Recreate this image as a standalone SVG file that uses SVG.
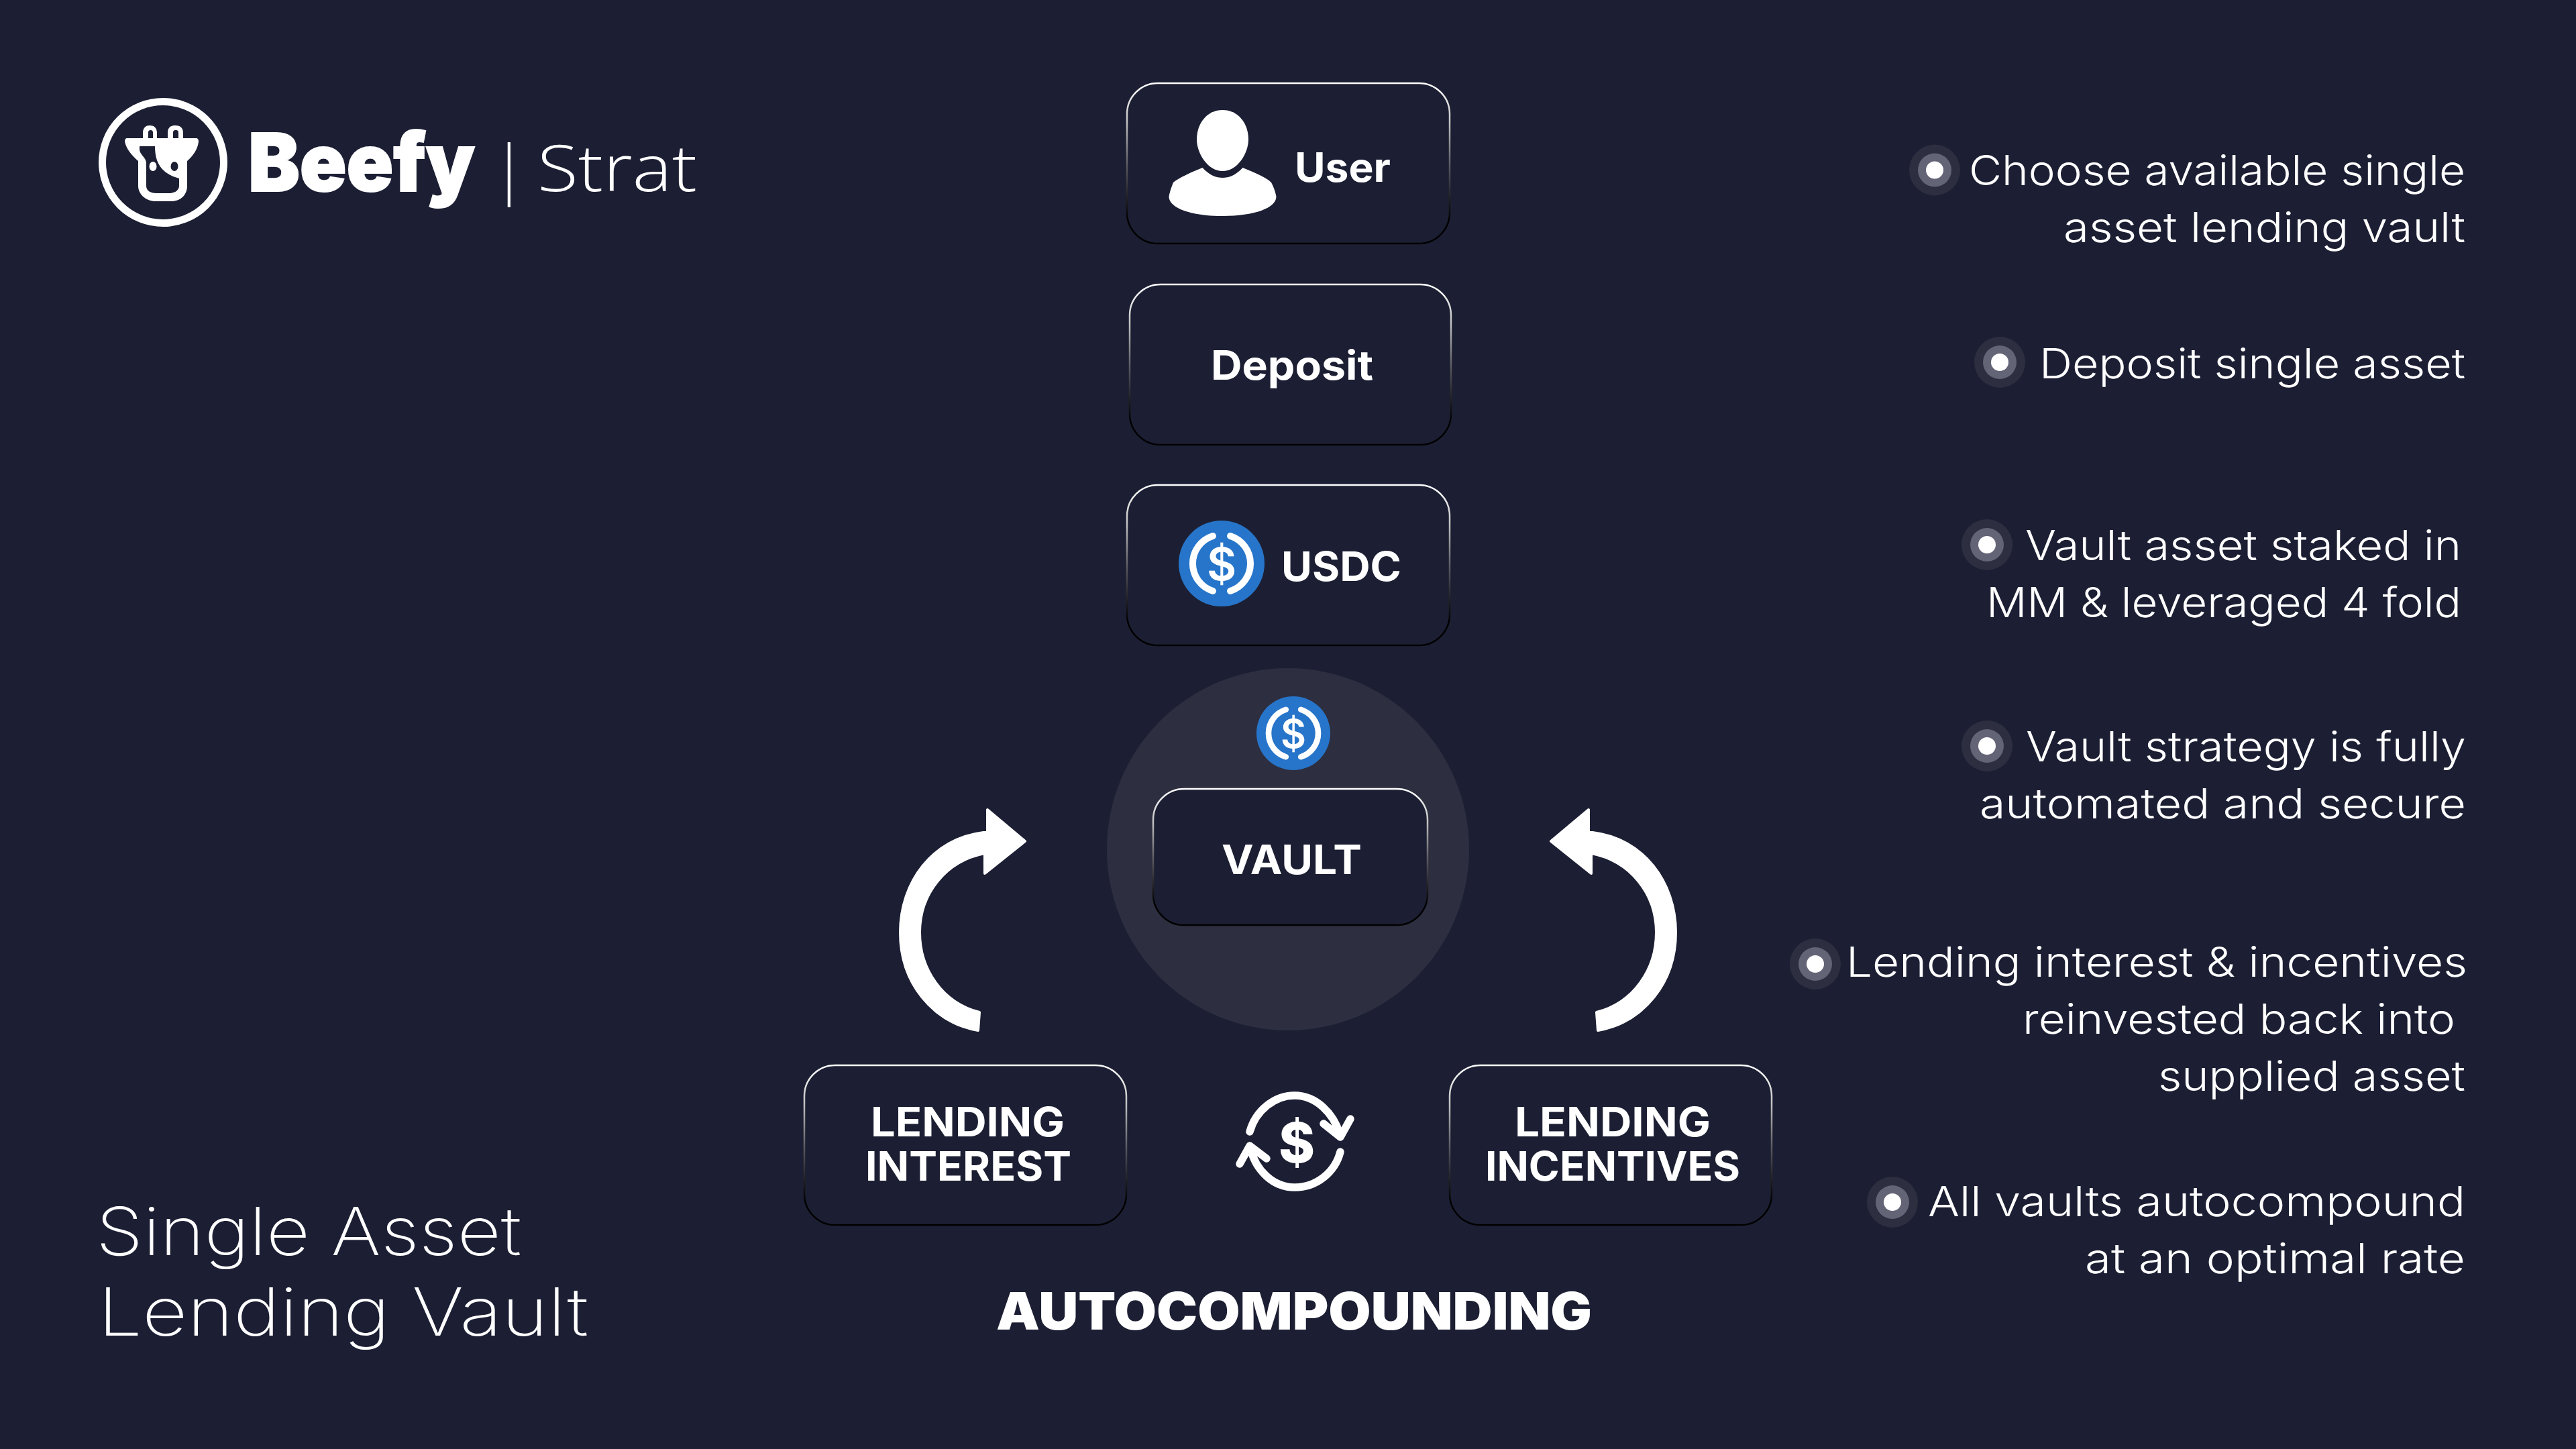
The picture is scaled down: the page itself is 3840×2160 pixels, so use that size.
<svg xmlns="http://www.w3.org/2000/svg" width="3840" height="2160" viewBox="0 0 3840 2160">
<defs>
<linearGradient id="edge" x1="0" y1="0" x2="0" y2="1">
<stop offset="0" stop-color="#ffffff"/><stop offset="0.25" stop-color="#c0c0c0"/><stop offset="0.5" stop-color="#5e5e64"/><stop offset="0.68" stop-color="#2a2a2e"/><stop offset="0.85" stop-color="#000000"/><stop offset="1" stop-color="#000000"/>
</linearGradient>
</defs>
<style>
text{font-family:"Inter","Liberation Sans",sans-serif;fill:#fff}
.box{fill:#1c1f33;stroke:url(#edge);stroke-width:2.500}
.t{font-weight:700;font-size:60px;text-anchor:start}
.b{font-weight:300;font-size:62px}
.o{fill:#2d2e3f}.m{fill:#636476}.i{fill:#fff}
.coin{fill:#2775ca}
.ring{fill:none;stroke:#fff;stroke-width:10;stroke-linecap:round}
.sw{fill:none;stroke:#fff;stroke-width:11.500;stroke-linecap:round;stroke-linejoin:round}
.arrow{fill:#fff;stroke:#fff;stroke-width:4;stroke-linejoin:round}
</style>
<rect width="3840" height="2160" fill="#1c1f33"/>

<g id="logo">
<circle cx="243" cy="242" r="90.500" fill="none" stroke="#fff" stroke-width="11"/>
<path fill="#fff" d="M213,206V198C213,190 218,187 223,187C229,187 234,190 234,198V206H250V198C250,190 255,187 261,187C268,187 273,190 273,198V206H292C295,206 296,208 296,211C295,222 288,232 279,240V277C279,290 270,300 255,300H232C218,300 206,290 206,277V240C197,232 188,222 186,211C186,208 187,206 190,206Z"/>
<path fill="#1c1f33" d="M221,206V198C221,195 222,194 224.500,194C227,194 228,195 228,198V206ZM258,206V198C258,195 259,194 262,194C265,194 266,195 266,198V206ZM208,218H231C231,240 238,258 267,266V277C267,284 260,288 252,288H233C224,288 218,284 218,277V243C218,235 208,230 208,223Z"/>
<ellipse cx="228" cy="248" rx="5.500" ry="7" fill="#fff"/>
<ellipse cx="260" cy="248" rx="5.500" ry="7" fill="#1c1f33"/>
<text x="370" y="285" font-size="120" font-weight="900" stroke="#fff" stroke-width="2" textLength="338" lengthAdjust="spacingAndGlyphs">Beefy</text>
<text x="733" y="285" font-size="96" font-weight="300" style="font-family:'Open Sans','Inter',sans-serif">|</text>
<text x="801" y="285" font-size="96" font-weight="300" textLength="238" lengthAdjust="spacingAndGlyphs" style="font-family:'Open Sans','Inter',sans-serif">Strat</text>
</g>

<g id="title">
<text x="143" y="1871" font-size="99" font-weight="200" textLength="634" lengthAdjust="spacingAndGlyphs">Single Asset</text>
<text x="146" y="1991" font-size="99" font-weight="200" textLength="731" lengthAdjust="spacingAndGlyphs">Lending Vault</text>
</g>

<g id="connectors">
<path id="arrow-left" class="arrow" d="M1460,1509C1405,1495 1371,1445 1371,1390C1371,1332 1410,1283 1468,1272V1302L1528,1254L1472,1207V1241H1466C1390,1250 1342,1315 1342,1390C1342,1465 1390,1524 1458,1536Z"/>
<path id="arrow-right" class="arrow" transform="translate(3840,0) scale(-1,1)" d="M1460,1509C1405,1495 1371,1445 1371,1390C1371,1332 1410,1283 1468,1272V1302L1528,1254L1472,1207V1241H1466C1390,1250 1342,1315 1342,1390C1342,1465 1390,1524 1458,1536Z"/>
</g>

<g id="node-user">
<rect class="box" x="1680" y="124" width="481" height="239" rx="46"/>
<path fill="#fff" d="M1822.500,164C1845,164 1861,183 1861,208C1861,228 1845,255 1822.500,255C1800,255 1784,228 1784,208C1784,183 1800,164 1822.500,164Z"/>
<path fill="#fff" d="M1792.500,250C1802,260 1811,265 1822.500,265C1834,265 1843,260 1852.500,250C1870,257 1888,265 1895,272C1899,280 1901,285 1902.500,293C1902.500,310 1870,322 1822.500,322C1775,322 1742.500,310 1742.500,293C1744,285 1746,280 1749,272C1757,265 1775,257 1792.500,250Z"/>
<text class="t" x="1930" y="271" textLength="143" lengthAdjust="spacingAndGlyphs">User</text>
</g>

<g id="node-deposit">
<rect class="box" x="1684" y="424" width="479" height="239" rx="46"/>
<text class="t" x="1805" y="566" textLength="242" lengthAdjust="spacingAndGlyphs">Deposit</text>
</g>

<g id="node-usdc">
<rect class="box" x="1680" y="723" width="481" height="239" rx="46"/>
<g transform="translate(1821,840)">
<circle class="coin" r="64"/>
<path class="ring" d="M-13,-41A43,43 0 0 0 -13,41M13,-41A43,43 0 0 1 13,41"/>
<text x="0" y="25" font-size="68" font-weight="600" text-anchor="middle">$</text>
</g>
<text class="t" x="1910" y="866" textLength="179" lengthAdjust="spacingAndGlyphs">USDC</text>
</g>

<g id="node-vault">
<circle cx="1920" cy="1266" r="270" fill="#2d2e3f"/>
<g transform="translate(1928,1093) scale(0.86)">
<circle class="coin" r="64"/>
<path class="ring" d="M-13,-41A43,43 0 0 0 -13,41M13,-41A43,43 0 0 1 13,41"/>
<text x="0" y="25" font-size="68" font-weight="600" text-anchor="middle">$</text>
</g>
<rect class="box" x="1719" y="1176" width="409" height="203" rx="46"/>
<text class="t" x="1821" y="1303" textLength="209" lengthAdjust="spacingAndGlyphs">VAULT</text>
</g>

<g id="node-lending-interest">
<rect class="box" x="1199" y="1588" width="480" height="238" rx="46"/>
<text class="t" x="1298" y="1694" textLength="289" lengthAdjust="spacingAndGlyphs">LENDING</text>
<text class="t" x="1290" y="1760" textLength="307" lengthAdjust="spacingAndGlyphs">INTEREST</text>
</g>

<g id="node-lending-incentives">
<rect class="box" x="2161" y="1588" width="480" height="238" rx="46"/>
<text class="t" x="2258" y="1694" textLength="292" lengthAdjust="spacingAndGlyphs">LENDING</text>
<text class="t" x="2214" y="1760" textLength="380" lengthAdjust="spacingAndGlyphs">INCENTIVES</text>
</g>

<g id="node-autocompounding">
<path class="sw" d="M1863,1687C1872,1655 1900,1633 1930,1633C1962,1633 1988,1660 1997,1690M1973,1675L1998,1695L2013,1668"/>
<path class="sw" d="M1998,1717C1990,1748 1962,1770 1930,1770C1898,1770 1872,1745 1864,1712M1848,1735L1863,1708L1888,1727"/>
<text x="1933" y="1733" font-size="82" font-weight="800" text-anchor="middle">$</text>
<text x="1485" y="1982" font-size="77" font-weight="900" textLength="888" lengthAdjust="spacingAndGlyphs">AUTOCOMPOUNDING</text>
</g>

<g id="step-1">
<circle class="o" cx="2884" cy="253.500" r="38"/><circle class="m" cx="2884" cy="253.500" r="25"/><circle class="i" cx="2884" cy="253.500" r="13"/>
<text class="b" x="2935" y="276" textLength="740" lengthAdjust="spacingAndGlyphs">Choose available single</text>
<text class="b" x="3076" y="361" textLength="599" lengthAdjust="spacingAndGlyphs">asset lending vault</text>
</g>
<g id="step-2">
<circle class="o" cx="2981" cy="540" r="38"/><circle class="m" cx="2981" cy="540" r="25"/><circle class="i" cx="2981" cy="540" r="13"/>
<text class="b" x="3040" y="564" textLength="635" lengthAdjust="spacingAndGlyphs">Deposit single asset</text>
</g>
<g id="step-3">
<circle class="o" cx="2962" cy="812" r="38"/><circle class="m" cx="2962" cy="812" r="25"/><circle class="i" cx="2962" cy="812" r="13"/>
<text class="b" x="3019" y="835" textLength="650" lengthAdjust="spacingAndGlyphs">Vault asset staked in</text>
<text class="b" x="2961" y="920" textLength="708" lengthAdjust="spacingAndGlyphs">MM &amp; leveraged 4 fold</text>
</g>
<g id="step-4">
<circle class="o" cx="2962" cy="1112" r="38"/><circle class="m" cx="2962" cy="1112" r="25"/><circle class="i" cx="2962" cy="1112" r="13"/>
<text class="b" x="3020" y="1135" textLength="656" lengthAdjust="spacingAndGlyphs">Vault strategy is fully</text>
<text class="b" x="2951" y="1220" textLength="725" lengthAdjust="spacingAndGlyphs">automated and secure</text>
</g>
<g id="step-5">
<circle class="o" cx="2706" cy="1437" r="38"/><circle class="m" cx="2706" cy="1437" r="25"/><circle class="i" cx="2706" cy="1437" r="13"/>
<text class="b" x="2752" y="1456" textLength="926" lengthAdjust="spacingAndGlyphs">Lending interest &amp; incentives</text>
<text class="b" x="3015" y="1541" textLength="645" lengthAdjust="spacingAndGlyphs">reinvested back into</text>
<text class="b" x="3217" y="1626" textLength="458" lengthAdjust="spacingAndGlyphs">supplied asset</text>
</g>
<g id="step-6">
<circle class="o" cx="2821" cy="1792" r="38"/><circle class="m" cx="2821" cy="1792" r="25"/><circle class="i" cx="2821" cy="1792" r="13"/>
<text class="b" x="2874" y="1813" textLength="801" lengthAdjust="spacingAndGlyphs">All vaults autocompound</text>
<text class="b" x="3108" y="1898" textLength="567" lengthAdjust="spacingAndGlyphs">at an optimal rate</text>
</g>
</svg>
